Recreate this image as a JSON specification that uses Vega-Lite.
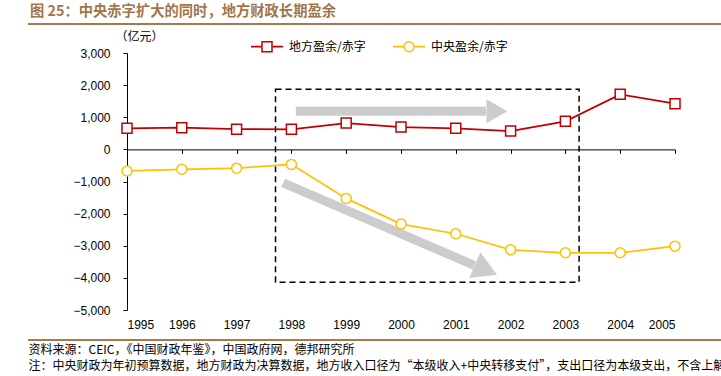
{
  "$schema": "https://vega.github.io/schema/vega-lite/v6.json",
  "autosize": "none",
  "padding": {"left": 127, "top": 53, "right": 46, "bottom": 66},
  "width": 548,
  "height": 257,
  "background": "white",
  "title": {
    "text": "图 25：中央赤字扩大的同时，地方财政长期盈余",
    "anchor": "start",
    "frame": "group",
    "dx": -97,
    "font": "Noto Sans CJK SC",
    "fontSize": 14.3,
    "fontWeight": "bold",
    "color": "#A0764A",
    "offset": 4
  },
  "datasets": {
    "fiscal": [
      {"year": 1995, "series": "地方盈余/赤字", "value": 657},
      {"year": 1996, "series": "地方盈余/赤字", "value": 676},
      {"year": 1997, "series": "地方盈余/赤字", "value": 630},
      {"year": 1998, "series": "地方盈余/赤字", "value": 625},
      {"year": 1999, "series": "地方盈余/赤字", "value": 820},
      {"year": 2000, "series": "地方盈余/赤字", "value": 695},
      {"year": 2001, "series": "地方盈余/赤字", "value": 654},
      {"year": 2002, "series": "地方盈余/赤字", "value": 570},
      {"year": 2003, "series": "地方盈余/赤字", "value": 872},
      {"year": 2004, "series": "地方盈余/赤字", "value": 1713},
      {"year": 2005, "series": "地方盈余/赤字", "value": 1424},
      {"year": 1995, "series": "中央盈余/赤字", "value": -672},
      {"year": 1996, "series": "中央盈余/赤字", "value": -620},
      {"year": 1997, "series": "中央盈余/赤字", "value": -585},
      {"year": 1998, "series": "中央盈余/赤字", "value": -467},
      {"year": 1999, "series": "中央盈余/赤字", "value": -1526},
      {"year": 2000, "series": "中央盈余/赤字", "value": -2326},
      {"year": 2001, "series": "中央盈余/赤字", "value": -2626},
      {"year": 2002, "series": "中央盈余/赤字", "value": -3125},
      {"year": 2003, "series": "中央盈余/赤字", "value": -3218},
      {"year": 2004, "series": "中央盈余/赤字", "value": -3218},
      {"year": 2005, "series": "中央盈余/赤字", "value": -3012}
    ]
  },
  "layer": [
    {
      "data": {"values": [{"year": 1997.71, "year2": 2003.25, "value": 1869, "value2": -4134}]},
      "mark": {"type": "rect", "filled": false, "stroke": "#000000", "strokeWidth": 1.5, "strokeDash": [6, 4]},
      "encoding": {
        "x": {
          "field": "year", "type": "quantitative",
          "scale": {"domain": [1995, 2005], "nice": false, "zero": false},
          "axis": {
            "values": [1995, 1996, 1997, 1998, 1999, 2000, 2001, 2002, 2003, 2004, 2005],
            "tickCount": 20,
            "format": "d", "grid": false,
            "offset": -160.625,
            "domainColor": "#000000", "domainWidth": 1,
            "tickColor": "#000000", "tickSize": 4,
            "labelPadding": 166, "labelOverlap": false,
            "labelFont": "Liberation Sans", "labelFontSize": 12, "labelColor": "#000000",
            "maxExtent": 400,
            "title": [
              "资料来源：CEIC，《中国财政年鉴》，中国政府网，德邦研究所",
              "注：中央财政为年初预算数据，地方财政为决算数据，地方收入口径为“本级收入+中央转移支付”，支出口径为本级支出，不含上解中央支出"
            ],
            "titleX": -99, "titleY": 195,
            "titleAlign": "left", "titleBaseline": "top", "titleAnchor": "start",
            "titleFont": "Noto Sans CJK SC", "titleFontSize": 12, "titleFontWeight": "normal",
            "titleColor": "#000000", "titleLineHeight": 16
          }
        },
        "x2": {"field": "year2"},
        "y": {
          "field": "value", "type": "quantitative",
          "scale": {"domain": [-5000, 3000], "nice": false, "zero": false},
          "axis": {
            "values": [-5000, -4000, -3000, -2000, -1000, 0, 1000, 2000, 3000],
            "tickCount": 20,
            "format": ",d", "grid": false, "labelOverlap": false,
            "domainColor": "#000000", "tickColor": "#000000", "tickSize": 4,
            "labelPadding": 13,
            "labelFont": "Liberation Sans", "labelFontSize": 12, "labelColor": "#000000",
            "title": "（亿元）", "titleAngle": 0, "titleX": -12, "titleY": -17,
            "titleAlign": "left", "titleBaseline": "middle",
            "titleFont": "Noto Sans CJK SC", "titleFontSize": 12, "titleFontWeight": "normal", "titleColor": "#000000"
          }
        },
        "y2": {"field": "value2"}
      }
    },
    {
      "data": {"values": [{"year": 1993.193, "year2": 2005.839, "value": 3903}, {"year": 1993.193, "year2": 2005.839, "value": -5934}]},
      "mark": {"type": "rule", "strokeWidth": 2, "color": "#A8784A", "clip": false},
      "encoding": {
        "x": {"field": "year", "type": "quantitative"},
        "x2": {"field": "year2"},
        "y": {"field": "value", "type": "quantitative"}
      }
    },
    {
      "data": {"values": [
        {"year": 1998.08, "value": 1184, "year2": 2001.55, "value2": 1184},
        {"year": 1997.85, "value": -1044, "year2": 2001.34, "value2": -3614}
      ]},
      "mark": {"type": "rule", "strokeWidth": 9, "color": "#CCCCCC"},
      "encoding": {
        "x": {"field": "year", "type": "quantitative"},
        "x2": {"field": "year2"},
        "y": {"field": "value", "type": "quantitative"},
        "y2": {"field": "value2"}
      }
    },
    {
      "data": {"values": [{"year": 2001.75, "value": 1184}]},
      "mark": {"type": "point", "shape": "triangle-right", "filled": true, "color": "#CCCCCC", "opacity": 1, "size": 576, "strokeWidth": 0},
      "encoding": {
        "x": {"field": "year", "type": "quantitative"},
        "y": {"field": "value", "type": "quantitative"}
      }
    },
    {
      "data": {"values": [{"year": 2001.55, "value": -3754}]},
      "mark": {"type": "point", "shape": "triangle-right", "angle": 23.2, "filled": true, "color": "#CCCCCC", "opacity": 1, "size": 784, "strokeWidth": 0},
      "encoding": {
        "x": {"field": "year", "type": "quantitative"},
        "y": {"field": "value", "type": "quantitative"}
      }
    },
    {
      "data": {"name": "fiscal"},
      "mark": {"type": "line", "strokeWidth": 1.75},
      "encoding": {
        "x": {"field": "year", "type": "quantitative"},
        "y": {"field": "value", "type": "quantitative"},
        "color": {
          "field": "series", "type": "nominal",
          "scale": {"domain": ["地方盈余/赤字", "中央盈余/赤字"], "range": ["#C00000", "#FFC000"]},
          "legend": {
            "title": null,
            "orient": "none",
            "legendX": 123,
            "legendY": -23.3,
            "direction": "horizontal",
            "symbolType": "M-1,0H-0.34M0.34,0H1",
            "symbolSize": 1024,
            "symbolStrokeWidth": 1.75,
            "labelFont": "Noto Sans CJK SC",
            "labelFontSize": 12,
            "labelColor": "#000000",
            "labelOffset": 5,
            "columnPadding": 23
          }
        }
      }
    },
    {
      "data": {"name": "fiscal"},
      "mark": {"type": "point", "filled": true, "fill": "white", "strokeWidth": 1.5, "size": 100, "opacity": 1},
      "encoding": {
        "x": {"field": "year", "type": "quantitative"},
        "y": {"field": "value", "type": "quantitative"},
        "stroke": {
          "field": "series", "type": "nominal",
          "scale": {"domain": ["中央盈余/赤字", "地方盈余/赤字"], "range": ["#FFC000", "#C00000"]},
          "legend": {
            "title": null,
            "orient": "none",
            "legendX": 134,
            "legendY": -12.3,
            "direction": "horizontal",
            "values": ["地方盈余/赤字", "中央盈余/赤字"],
            "symbolSize": 100,
            "symbolStrokeWidth": 1.5,
            "symbolFillColor": "white",
            "labelExpr": "''",
            "labelOffset": 0,
            "columnPadding": 126
          }
        },
        "shape": {
          "field": "series", "type": "nominal",
          "scale": {"domain": ["中央盈余/赤字", "地方盈余/赤字"], "range": ["circle", "square"]},
          "legend": {
            "title": null,
            "orient": "none",
            "legendX": 134,
            "legendY": -12.3,
            "direction": "horizontal",
            "values": ["地方盈余/赤字", "中央盈余/赤字"],
            "symbolSize": 100,
            "symbolStrokeWidth": 1.5,
            "symbolFillColor": "white",
            "labelExpr": "''",
            "labelOffset": 0,
            "columnPadding": 126
          }
        }
      }
    }
  ],
  "config": {
    "view": {"stroke": null},
    "font": "Noto Sans CJK SC"
  }
}
